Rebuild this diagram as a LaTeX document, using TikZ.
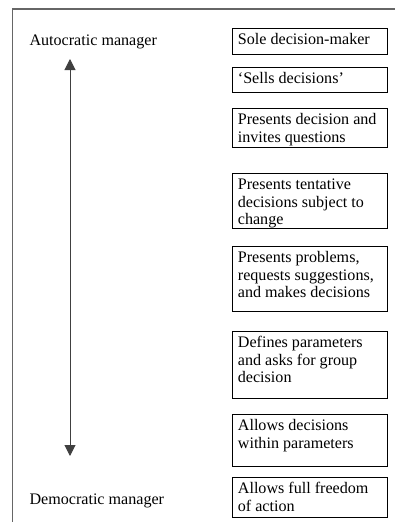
\documentclass[tikz,border=0pt]{standalone}
\usepackage{fontspec}
\setmainfont{Liberation Serif}
\usetikzlibrary{arrows.meta}
\begin{document}
\begin{tikzpicture}[x=1pt,y=-1pt,
  outerframe/.style={draw=black!60,line width=1.8pt},
  % a framed box of fixed size whose text starts at its top left corner
  stagebox/.style={draw,line width=0.8pt,anchor=north west,
    inner xsep=6pt,inner ysep=4pt,minimum width=155pt,
    font=\fontsize{16.1}{17.6}\selectfont,
    execute at begin node={\begin{minipage}[t][\dimexpr#1-8pt\relax][t]{143pt}\raggedright\noindent\strut},
    execute at end node={\end{minipage}}},
  polelabel/.style={anchor=base west,font=\fontsize{16.1}{17.6}\selectfont},
  twowayarrow/.style={draw=black!75,line width=1pt,
    {Triangle[length=11pt,width=11pt]}-{Triangle[length=11pt,width=11pt]}}]
\useasboundingbox (0,0) rectangle (395,522);
% outer frame, open at the bottom and right
\draw[outerframe] (12.5,522) -- (12.5,9) -- (395,9);
% the two ends of the scale
\node[polelabel] (auto) at (26,45) {Autocratic manager};
\node[polelabel] (demo) at (26,504) {Democratic manager};
\coordinate (top) at (70,59);
\coordinate (bot) at (70,456);
\draw[twowayarrow] (bot) -- (top);
% decision styles, from autocratic to democratic
\node[stagebox=26pt] (s1) at (231.5,28) {Sole decision-maker};
\node[stagebox=25pt] (s2) at (231.5,67) {`Sells decisions'};
\node[stagebox=39pt] (s3) at (231.5,108) {Presents decision and\\invites questions};
\node[stagebox=55pt] (s4) at (231.5,173) {Presents tentative\\decisions subject to\\change};
\node[stagebox=65pt] (s5) at (231.5,246) {Presents problems,\\requests suggestions,\\and makes decisions};
\node[stagebox=67pt] (s6) at (231.5,331) {Defines parameters\\and asks for group\\decision};
\node[stagebox=52pt] (s7) at (231.5,414) {Allows decisions\\within parameters};
\node[stagebox=40pt] (s8) at (231.5,477) {Allows full freedom\\of action};
\end{tikzpicture}
\end{document}
